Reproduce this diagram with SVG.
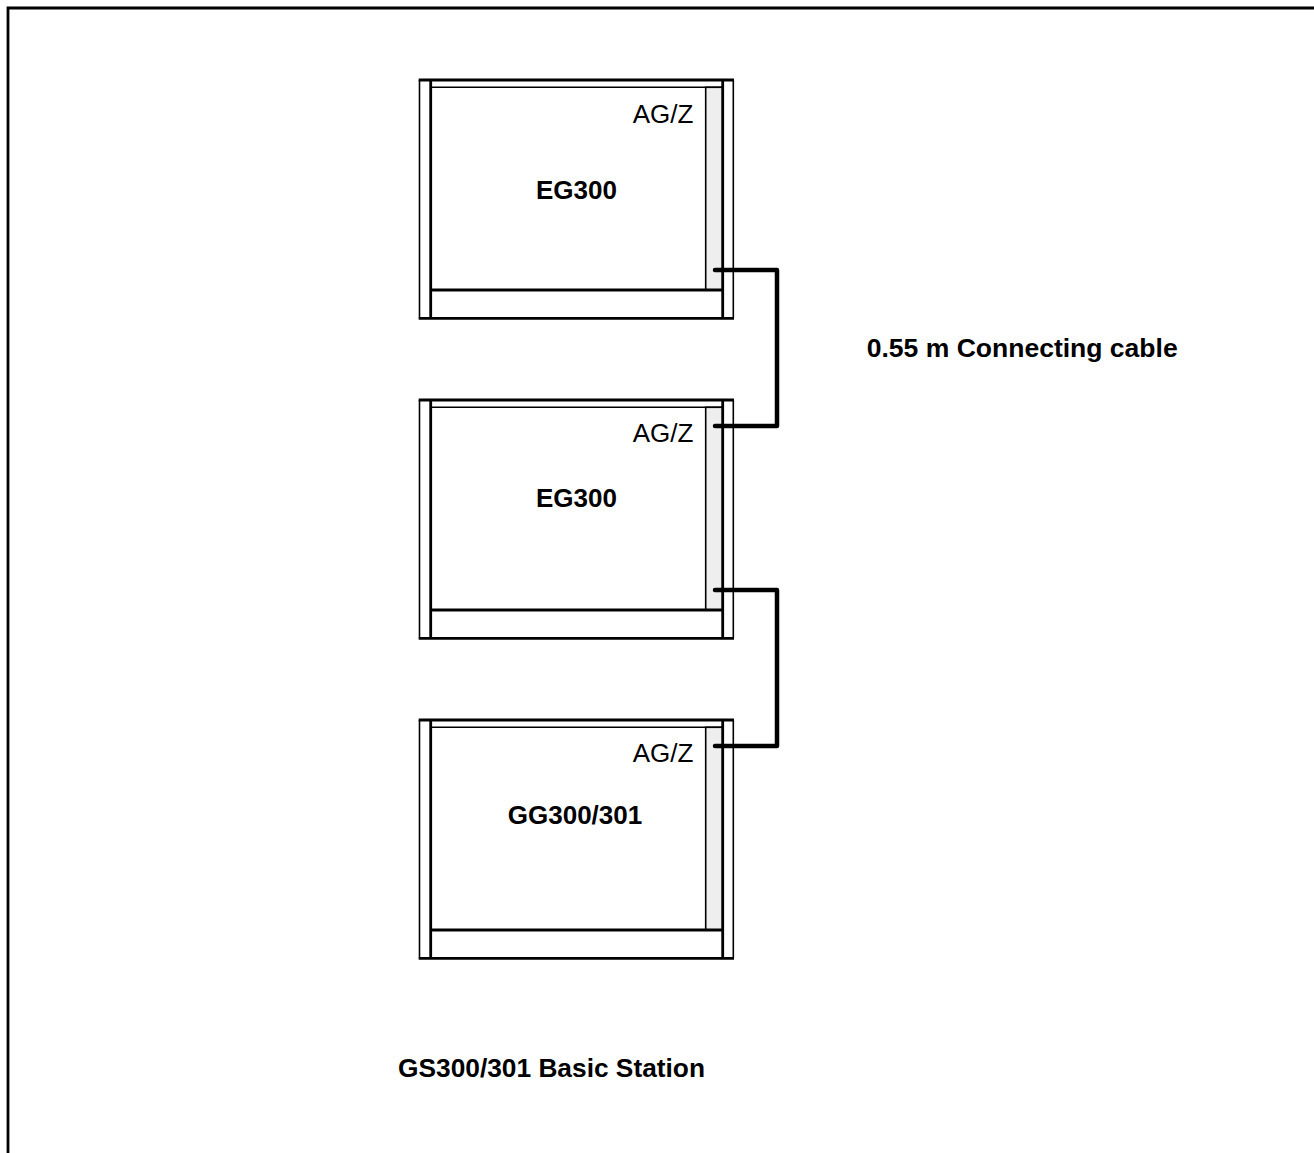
<svg xmlns="http://www.w3.org/2000/svg" width="1314" height="1153" viewBox="0 0 1314 1153">
<defs>
<style>
.thin{fill:none;stroke:#000;stroke-width:1.6}
.thick{fill:none;stroke:#000;stroke-width:2.8}
.strip{fill:#eeeeee;stroke:#000;stroke-width:1.6}
.port{font-family:"Liberation Sans",Arial,sans-serif;font-size:26px;fill:#000}
.name{font-family:"Liberation Sans",Arial,sans-serif;font-size:26px;font-weight:bold;fill:#000}
.cable{fill:none;stroke:#000;stroke-width:4.5;stroke-linecap:round;stroke-linejoin:round}
</style>
<g id="unit">
<rect x="419.5" y="0" width="313.8" height="238.3" fill="#fff" stroke="none"/>
<rect class="strip" x="705.7" y="7.3" width="17" height="202.7"/>
<line class="thin" x1="430.7" y1="7.3" x2="722.7" y2="7.3"/>
<line class="thick" x1="430.7" y1="210" x2="722.7" y2="210"/>
<line class="thin" x1="419.5" y1="0" x2="419.5" y2="238.3"/>
<line class="thin" x1="733.3" y1="0" x2="733.3" y2="238.3"/>
<line class="thick" x1="430.7" y1="0" x2="430.7" y2="238.3"/>
<line class="thick" x1="722.7" y1="0" x2="722.7" y2="238.3"/>
<line class="thick" x1="418.7" y1="0" x2="734" y2="0"/>
<line class="thick" x1="418.7" y1="238.3" x2="734" y2="238.3"/>
</g>
</defs>
<rect width="1314" height="1153" fill="#fff"/>
<path d="M8 1153 V8 H1314" fill="none" stroke="#000" stroke-width="2.8"/>
<g id="eg300-top">
<use href="#unit" y="80"/>
<text class="port" x="693.3" y="122.7" text-anchor="end">AG/Z</text>
<text class="name" x="576.5" y="199.3" text-anchor="middle">EG300</text>
</g>
<g id="eg300-middle">
<use href="#unit" y="400"/>
<text class="port" x="693.3" y="441.7" text-anchor="end">AG/Z</text>
<text class="name" x="576.5" y="506.7" text-anchor="middle">EG300</text>
</g>
<g id="gg300">
<use href="#unit" y="720"/>
<text class="port" x="693.3" y="761.7" text-anchor="end">AG/Z</text>
<text class="name" x="575" y="824" text-anchor="middle">GG300/301</text>
</g>
<g id="connectors">
<path class="cable" d="M715 270 H777 V426 H715"/>
<path class="cable" d="M715 590 H777 V746 H715"/>
</g>
<g id="labels">
<text class="name" x="866.7" y="356.7" textLength="311" lengthAdjust="spacingAndGlyphs">0.55 m Connecting cable</text>
<text class="name" x="398" y="1077.3" textLength="307" lengthAdjust="spacingAndGlyphs">GS300/301 Basic Station</text>
</g>
</svg>
